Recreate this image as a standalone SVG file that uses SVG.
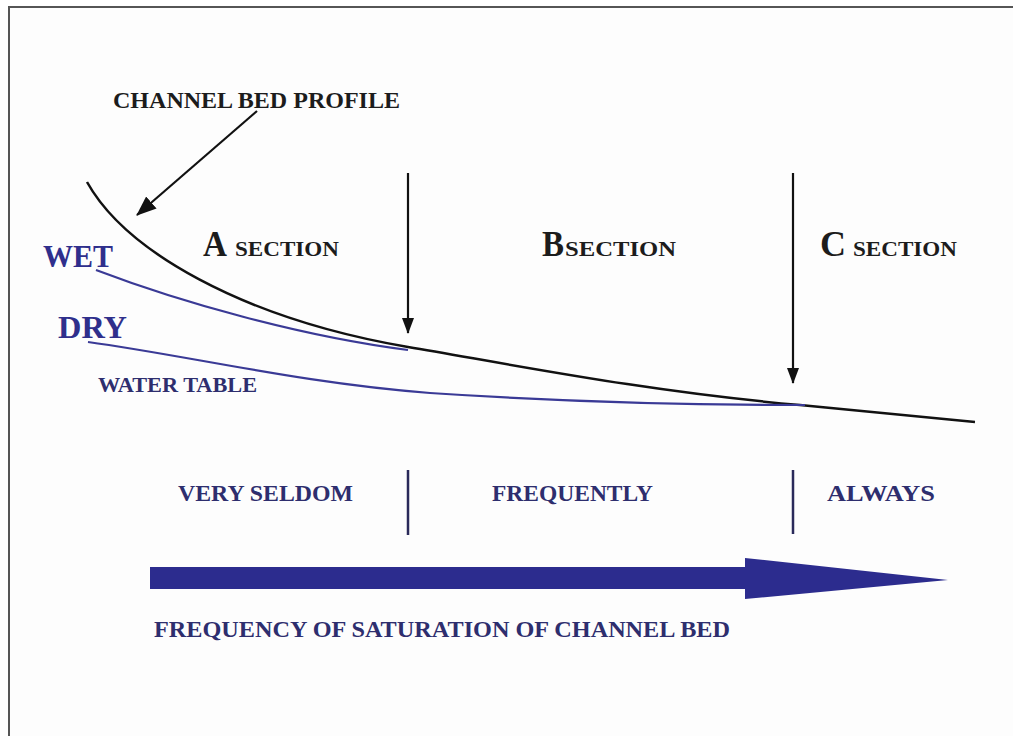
<svg xmlns="http://www.w3.org/2000/svg" width="1013" height="736" viewBox="0 0 1013 736">
<style>
  text { font-family: "Liberation Serif", "Times New Roman", serif; font-weight: bold; }
  .blk { fill: #1c1c1c; }
  .navy { fill: #2e2e6e; }
  .blue { fill: #2f2f8c; }
  .big { font-size: 36px; }
  .sm { font-size: 22px; }
  .lab { font-size: 24px; }
  .profile { fill: none; stroke: #111; stroke-width: 2.5; }
  .wt { fill: none; stroke: #3a3a96; stroke-width: 2.2; }
  .arr { fill: none; stroke: #111; stroke-width: 2.2; }
  .div { stroke: #2a2a5a; stroke-width: 2.5; }
</style>
<defs>
  <marker id="ah" markerUnits="userSpaceOnUse" markerWidth="20" markerHeight="16" viewBox="0 0 20 16" refX="19" refY="8" orient="auto">
    <path d="M0,0 L20,8 L0,16 Z" fill="#111"/>
  </marker>
  <marker id="ahv" markerUnits="userSpaceOnUse" markerWidth="16" markerHeight="12" viewBox="0 0 16 12" refX="15" refY="6" orient="auto">
    <path d="M0,0 L16,6 L0,12 Z" fill="#111"/>
  </marker>
</defs>
<rect x="0" y="0" width="1013" height="736" fill="#ffffff"/>
<rect x="9" y="8" width="1004" height="728" fill="#fdfdfd"/>
<line x1="8" y1="7" x2="1013" y2="7" stroke="#555" stroke-width="2"/>
<line x1="9" y1="6" x2="9" y2="736" stroke="#555" stroke-width="2"/>

<g id="connectors">
  <path id="channel-bed" class="profile" d="M87,182 C125,250 240,318 408,347 C520,366 650,392 800,405 L975,422"/>
  <path id="wet-line" class="wt" d="M96,270 C180,302 300,336 408,350"/>
  <path id="dry-line" class="wt" d="M88,342 C190,356 300,383 430,393 C520,399 650,405 805,405"/>
  <line class="arr" x1="257" y1="111" x2="137" y2="215" marker-end="url(#ah)"/>
  <line class="arr" x1="408" y1="173" x2="408" y2="333" marker-end="url(#ahv)"/>
  <line class="arr" x1="793" y1="173" x2="793" y2="383" marker-end="url(#ahv)"/>
  <line class="div" x1="408" y1="470" x2="408" y2="535"/>
  <line class="div" x1="793" y1="470" x2="793" y2="534"/>
  <polygon id="frequency-arrow" points="150,567 745,567 745,558 948,580 745,599 745,589 150,589" fill="#2c2c8e"/>
</g>

<g id="label-channel-bed-profile"><text class="blk" x="113" y="108" font-size="23" textLength="287" lengthAdjust="spacingAndGlyphs">CHANNEL BED PROFILE</text></g>
<g id="label-wet"><text class="blue" x="43" y="267" font-size="32" textLength="70" lengthAdjust="spacingAndGlyphs">WET</text></g>
<g id="label-dry"><text class="blue" x="58" y="338" font-size="32" textLength="69" lengthAdjust="spacingAndGlyphs">DRY</text></g>
<g id="label-water-table"><text class="navy" x="98" y="392" font-size="21" textLength="159" lengthAdjust="spacingAndGlyphs">WATER TABLE</text></g>

<g id="section-a"><text class="blk"><tspan class="big" x="203" y="256" textLength="24" lengthAdjust="spacingAndGlyphs">A</tspan><tspan class="sm" x="235" y="256" textLength="104" lengthAdjust="spacingAndGlyphs">SECTION</tspan></text></g>
<g id="section-b"><text class="blk"><tspan class="big" x="542" y="256" textLength="22" lengthAdjust="spacingAndGlyphs">B</tspan><tspan class="sm" x="565" y="256" textLength="111" lengthAdjust="spacingAndGlyphs">SECTION</tspan></text></g>
<g id="section-c"><text class="blk"><tspan class="big" x="820" y="256" textLength="26" lengthAdjust="spacingAndGlyphs">C</tspan><tspan class="sm" x="853" y="256" textLength="104" lengthAdjust="spacingAndGlyphs">SECTION</tspan></text></g>

<g id="label-very-seldom"><text class="navy lab" x="178" y="501" textLength="175" lengthAdjust="spacingAndGlyphs">VERY SELDOM</text></g>
<g id="label-frequently"><text class="navy lab" x="492" y="501" textLength="161" lengthAdjust="spacingAndGlyphs">FREQUENTLY</text></g>
<g id="label-always"><text class="navy lab" x="827" y="501" textLength="108" lengthAdjust="spacingAndGlyphs">ALWAYS</text></g>
<g id="label-frequency"><text class="navy lab" x="154" y="637" font-size="25" textLength="576" lengthAdjust="spacingAndGlyphs">FREQUENCY OF SATURATION OF CHANNEL BED</text></g>
</svg>
